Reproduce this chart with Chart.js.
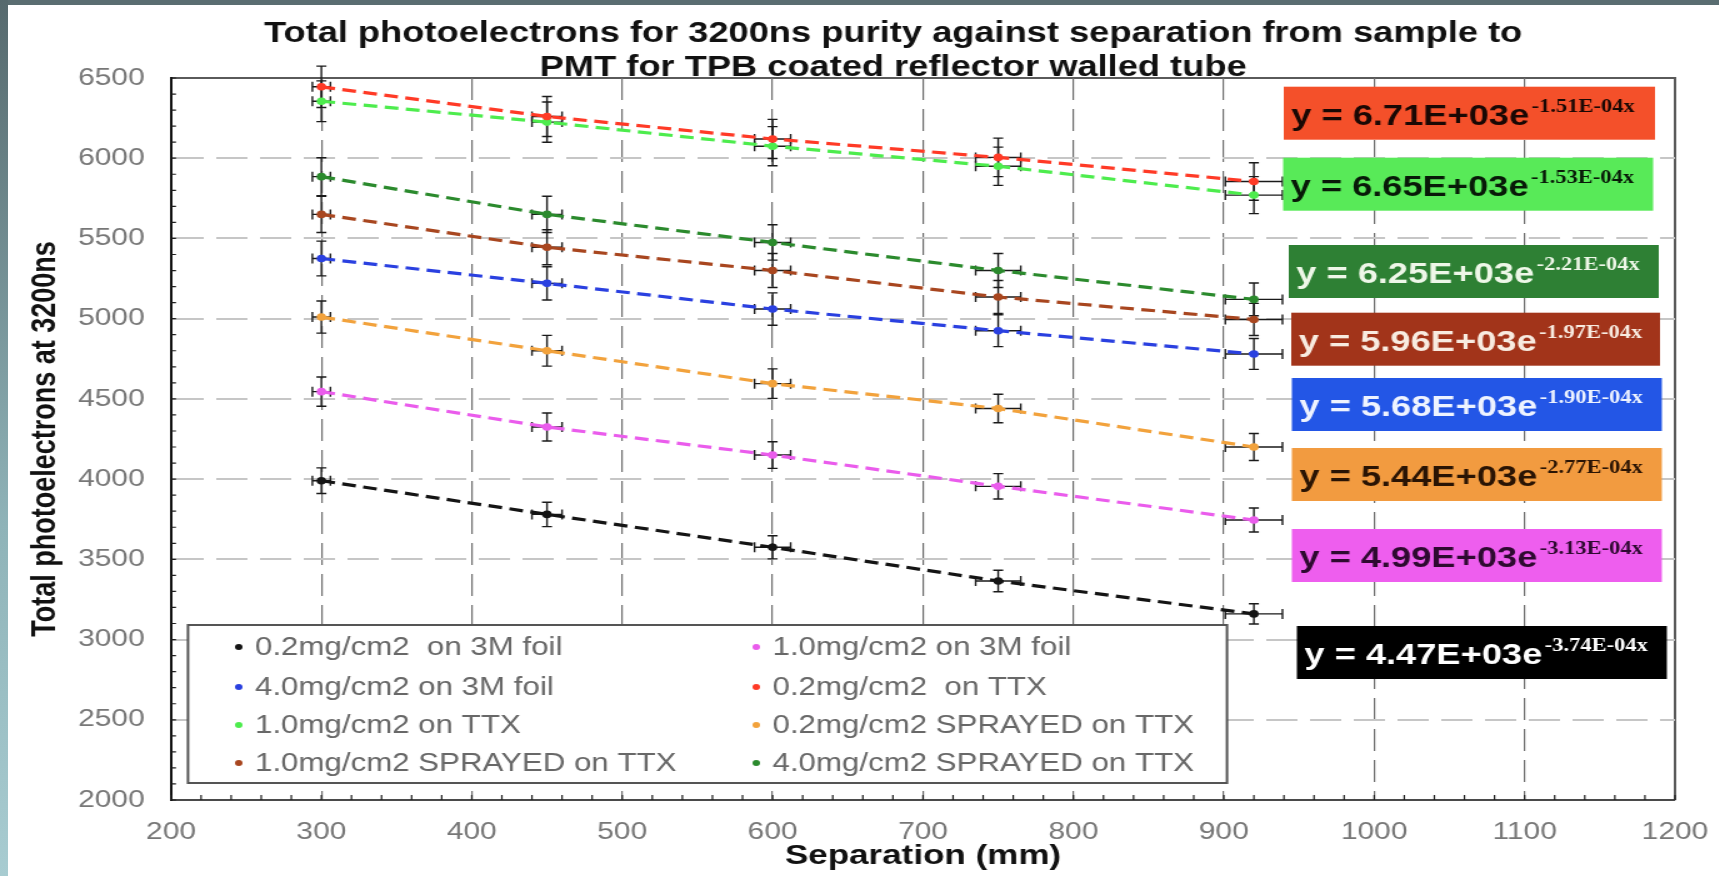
<!DOCTYPE html>
<html>
<head>
<meta charset="utf-8">
<script src="https://cdn.jsdelivr.net/npm/chart.js@4.4.1/dist/chart.umd.min.js"></script>
<style>
  html, body { margin: 0; padding: 0; background: #ffffff; width: 1719px; height: 876px; overflow: hidden; }
  #wrap { position: absolute; left: 0; top: 0; width: 1375px; height: 876px; transform: scaleX(1.25); transform-origin: 0 0; }
  #wrap canvas { display: block; }
  #edgeTop { position: absolute; left: 0; top: 0; width: 1719px; height: 5px; background: #5a6d71; }
  #edgeLeft { position: absolute; left: 0; top: 0; width: 8px; height: 876px; background: linear-gradient(#56696d, #8fb3b8 60%, #a8ccd1); }
</style>
</head>
<body>
<div id="wrap"><canvas id="chart" width="1375" height="876"></canvas></div>
<div id="edgeTop"></div>
<div id="edgeLeft"></div>
<script>
// ---------------- data ----------------
const titleLines = [
  'Total photoelectrons for 3200ns purity against separation from sample to',
  'PMT for TPB coated reflector walled tube'
];
const xAxisTitle = 'Separation (mm)';
const yAxisTitle = 'Total photoelectrons at 3200ns';

const xMin = 200, xMax = 1200, xStep = 100, xMinorStep = 20;
const yMin = 2000, yMax = 6500, yStep = 500, yMinorStep = 100;

const separationMm = [300, 450, 600, 750, 920];
const separationErrMm = [6, 10, 12, 15, 19];

const seriesLabels = [
  '0.2mg/cm2  on 3M foil',
  '1.0mg/cm2 on 3M foil',
  '4.0mg/cm2 on 3M foil',
  '0.2mg/cm2  on TTX',
  '1.0mg/cm2 on TTX',
  '0.2mg/cm2 SPRAYED on TTX',
  '1.0mg/cm2 SPRAYED on TTX',
  '4.0mg/cm2 SPRAYED on TTX'
];

const pe02on3M    = [3990, 3780, 3575, 3365, 3160];
const pe10on3M    = [4545, 4325, 4150, 3955, 3745];
const pe40on3M    = [5375, 5220, 5060, 4925, 4780];
const pe02onTTX   = [6445, 6260, 6120, 6005, 5855];
const pe10onTTX   = [6355, 6225, 6075, 5950, 5770];
const pe02Sprayed = [5010, 4800, 4595, 4440, 4200];
const pe10Sprayed = [5650, 5445, 5300, 5135, 4995];
const pe40Sprayed = [5885, 5650, 5475, 5300, 5120];

const err02on3M    = [80, 76, 72, 67, 63];
const err10on3M    = [91, 87, 83, 79, 75];
const err40on3M    = [108, 104, 101, 99, 96];
const err02onTTX   = [129, 125, 122, 120, 117];
const err10onTTX   = [127, 125, 122, 119, 115];
const err02Sprayed = [100, 96, 92, 89, 84];
const err10Sprayed = [113, 109, 106, 103, 100];
const err40Sprayed = [118, 113, 110, 106, 102];

const seriesValues = [pe02on3M, pe10on3M, pe40on3M, pe02onTTX, pe10onTTX, pe02Sprayed, pe10Sprayed, pe40Sprayed];
const seriesErrors = [err02on3M, err10on3M, err40on3M, err02onTTX, err10onTTX, err02Sprayed, err10Sprayed, err40Sprayed];

// fitted trend-line equations (top to bottom as shown at right)
const fitPrefactor = ['6.71E+03', '6.65E+03', '6.25E+03', '5.96E+03', '5.68E+03', '5.44E+03', '4.99E+03', '4.47E+03'];
const fitExponent  = ['-1.51E-04x', '-1.53E-04x', '-2.21E-04x', '-1.97E-04x', '-1.90E-04x', '-2.77E-04x', '-3.13E-04x', '-3.74E-04x'];

// ---------------- styles ----------------
const FONT = "'Liberation Sans', Arial, Helvetica, sans-serif";
const SERIF = "'Liberation Serif', 'Times New Roman', serif";
const seriesColors = ['#141414', '#ea5cec', '#2a40e0', '#ff3a26', '#4dec4d', '#f2a23c', '#a8461f', '#2b8a2d'];

const eqBoxColors  = ['#f4502a', '#58ea58', '#2e8034', '#a2341a', '#2356e6', '#f29b40', '#ee5eee', '#000000'];
const eqTextColors = ['#1a0804', '#081a08', '#eef7e8', '#f8ebe0', '#eef3ff', '#2a1404', '#2e0a30', '#ffffff'];
const eqBoxTop   = [86.7, 157.7, 245, 312.7, 378, 448, 529, 626];
const eqBoxLeft  = [1027, 1026.5, 1031, 1033, 1033.5, 1033.5, 1033.5, 1037.5];
const eqBoxRight = [1324, 1322.5, 1327, 1328, 1329.5, 1329.5, 1329.5, 1333.5];
const eqBoxHeight = 53;

const legendBox = { left: 150.4, top: 625, right: 981.6, bottom: 783 };
const legendColX = [191, 605];
const legendRowY = [647, 687, 725, 763];

// ---------------- plugins ----------------
const framePlugin = {
  id: 'frame',
  afterLayout(chart) {
    // let the left axis (tick labels + title) use the full left margin
    const s = chart.scales.y;
    s.left = 0;
    s.width = s.right;
  },
  beforeDraw(chart) {
    const { ctx, chartArea: a } = chart;
    ctx.save();
    ctx.strokeStyle = '#5a5a5a';
    ctx.lineWidth = 2;
    ctx.beginPath();
    ctx.moveTo(a.left, a.top);
    ctx.lineTo(a.right, a.top);
    ctx.lineTo(a.right, a.bottom);
    ctx.stroke();
    ctx.restore();
  },
  beforeDatasetsDraw(chart) {
    const { ctx, chartArea: a, scales: { x, y } } = chart;
    ctx.save();
    // inward minor ticks
    ctx.strokeStyle = '#1e1e1e';
    ctx.lineWidth = 1.2;
    ctx.beginPath();
    for (let v = yMin; v <= yMax; v += yMinorStep) {
      const py = y.getPixelForValue(v);
      ctx.moveTo(a.left, py); ctx.lineTo(a.left + 4, py);
    }
    for (let v = xMin; v <= xMax; v += xMinorStep) {
      const px = x.getPixelForValue(v);
      ctx.moveTo(px, a.bottom); ctx.lineTo(px, a.bottom - 5);
    }
    ctx.stroke();
    // error bars
    ctx.strokeStyle = '#1a1a1a';
    ctx.lineWidth = 1.4;
    chart.data.datasets.forEach((ds) => {
      ds.data.forEach((p, i) => {
        const px = x.getPixelForValue(p.x);
        const py = y.getPixelForValue(p.y);
        const yT = y.getPixelForValue(p.y + ds.yErr[i]);
        const yB = y.getPixelForValue(p.y - ds.yErr[i]);
        const xL = x.getPixelForValue(p.x - separationErrMm[i]);
        const xR = x.getPixelForValue(p.x + separationErrMm[i]);
        ctx.beginPath();
        ctx.moveTo(px, yT); ctx.lineTo(px, yB);
        ctx.moveTo(px - 4, yT); ctx.lineTo(px + 4, yT);
        ctx.moveTo(px - 4, yB); ctx.lineTo(px + 4, yB);
        ctx.moveTo(xL, py); ctx.lineTo(xR, py);
        ctx.moveTo(xL, py - 5); ctx.lineTo(xL, py + 5);
        ctx.moveTo(xR, py - 5); ctx.lineTo(xR, py + 5);
        ctx.stroke();
      });
    });
    ctx.restore();
  },
  afterDatasetsDraw(chart) {
    const { ctx } = chart;
    ctx.save();
    // legend
    const lb = legendBox;
    ctx.fillStyle = '#ffffff';
    ctx.fillRect(lb.left, lb.top, lb.right - lb.left, lb.bottom - lb.top);
    ctx.strokeStyle = '#555555';
    ctx.lineWidth = 2;
    ctx.strokeRect(lb.left, lb.top, lb.right - lb.left, lb.bottom - lb.top);
    ctx.font = '25px ' + FONT;
    ctx.textBaseline = 'middle';
    ctx.textAlign = 'left';
    chart.data.datasets.forEach((ds, i) => {
      const col = i % 2, row = Math.floor(i / 2);
      const cx = legendColX[col], cy = legendRowY[row];
      ctx.fillStyle = ds.borderColor;
      ctx.beginPath(); ctx.arc(cx, cy, 3, 0, Math.PI * 2); ctx.fill();
      ctx.fillStyle = '#686868';
      ctx.fillText(ds.label, cx + 13, cy + 1);
    });
    // equation boxes
    fitPrefactor.forEach((pre, i) => {
      const L = eqBoxLeft[i], R = eqBoxRight[i], T = eqBoxTop[i];
      ctx.fillStyle = eqBoxColors[i];
      ctx.fillRect(L, T, R - L, eqBoxHeight);
      ctx.fillStyle = eqTextColors[i];
      ctx.textBaseline = 'alphabetic';
      ctx.font = 'bold 29px ' + FONT;
      const main = 'y = ' + pre + 'e';
      ctx.fillText(main, L + 6, T + 38);
      const w = ctx.measureText(main).width;
      ctx.font = 'bold 18px ' + SERIF;
      ctx.fillText(fitExponent[i], L + 6 + w + 2, T + 25);
    });
    ctx.restore();
  }
};

// ---------------- chart ----------------
const datasets = seriesLabels.map((label, k) => ({
  label,
  data: separationMm.map((sx, i) => ({ x: sx, y: seriesValues[k][i] })),
  yErr: seriesErrors[k],
  borderColor: seriesColors[k],
  backgroundColor: seriesColors[k],
  showLine: true,
  borderDash: [11, 6],
  borderWidth: 3.2,
  pointRadius: 3.8,
  pointBorderWidth: 0,
  pointHoverRadius: 3.8,
  fill: false,
  tension: 0
}));

const plainNumber = (v) => String(v);

new Chart(document.getElementById('chart'), {
  type: 'scatter',
  data: { datasets },
  options: {
    responsive: false,
    animation: false,
    devicePixelRatio: 1,
    events: [],
    layout: { padding: { left: 89, right: 35, top: 0, bottom: 0 } },
    plugins: {
      legend: { display: false },
      tooltip: { enabled: false },
      title: {
        display: true,
        text: titleLines,
        color: '#111111',
        font: { family: FONT, size: 29, weight: 'bold', lineHeight: 34 / 29 },
        padding: { top: 17, bottom: -7 }
      }
    },
    scales: {
      x: {
        type: 'linear',
        position: 'bottom',
        min: xMin, max: xMax,
        afterFit: (s) => { s.height = 76; },
        ticks: { stepSize: xStep, color: '#777777', font: { family: FONT, size: 24 }, padding: 4, maxRotation: 0, callback: plainNumber },
        grid: {
          color: (c) => (c.tick && (c.tick.value === xMin || c.tick.value === xMax)) ? 'rgba(0,0,0,0)' : '#6e6e6e',
          lineWidth: 1.2,
          drawTicks: true,
          tickLength: 13.6,
          tickColor: 'rgba(0,0,0,0)'
        },
        border: { display: true, color: '#4a4a4a', width: 2, dash: [22, 9] },
        title: { display: true, text: xAxisTitle, color: '#111111', font: { family: FONT, size: 28, weight: 'bold' }, padding: { top: 0, bottom: 3.2 } }
      },
      y: {
        type: 'linear',
        position: 'left',
        min: yMin, max: yMax,
        afterFit: (s) => { s.width = 47.8; },
        ticks: { stepSize: yStep, color: '#777777', font: { family: FONT, size: 24 }, padding: 21, callback: plainNumber },
        grid: {
          color: (c) => (c.tick && (c.tick.value === yMin || c.tick.value === yMax)) ? 'rgba(0,0,0,0)' : '#c6c6c6',
          lineWidth: 2,
          drawTicks: false
        },
        border: { display: true, color: '#111111', width: 2, dash: [25, 10] },
        title: { display: true, text: yAxisTitle, color: '#111111', font: { family: FONT, size: 27, weight: 'bold' }, padding: { top: 20.6, bottom: 0 } }
      }
    }
  },
  plugins: [framePlugin]
});
</script>
</body>
</html>
